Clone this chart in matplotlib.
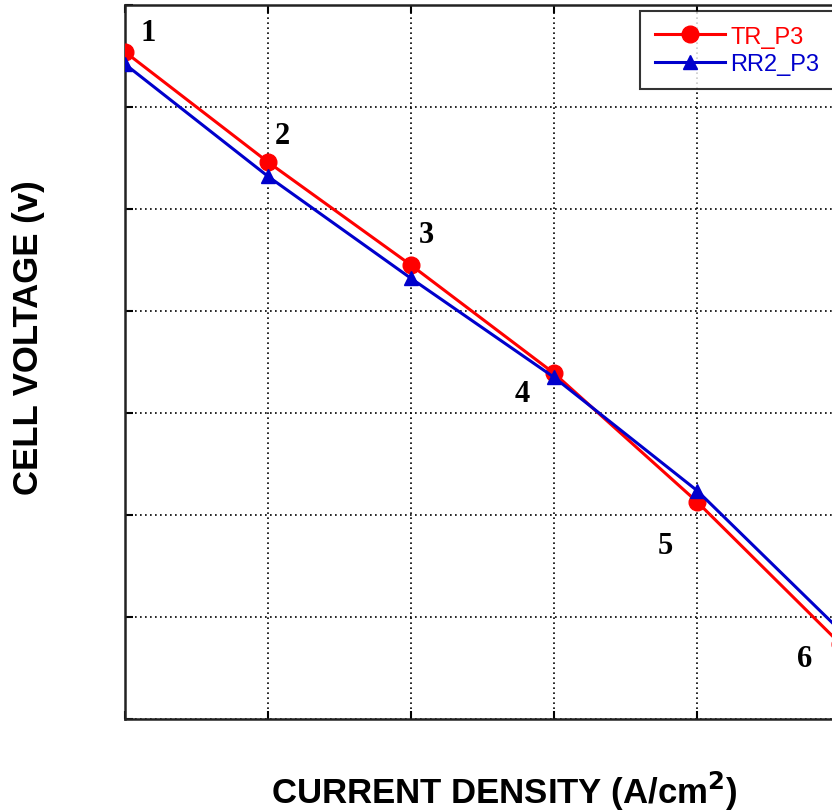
import matplotlib
matplotlib.use("Agg")
import matplotlib.pyplot as plt

# point index along the current density axis (no tick values shown)
current_density = [0, 1, 2, 3, 4, 5]
tr_p3 = [6.54, 5.46, 4.45, 3.39, 2.13, 0.74]
rr2_p3 = [6.42, 5.32, 4.32, 3.35, 2.24, 0.87]
point_labels = ["1", "2", "3", "4", "5", "6"]
label_offsets = [(0.16, 0.19), (0.1, 0.26), (0.11, 0.3), (-0.22, -0.2), (-0.22, -0.43), (-0.25, -0.15)]

fig = plt.figure(figsize=(8.32, 8.12), dpi=100)
ax = fig.add_axes([125 / 832, 92 / 812, 715 / 832, 714 / 812])

ax.plot(current_density, tr_p3, color="#ff0000", lw=2.2, marker="o", ms=12,
        label="TR_P3", zorder=3)
ax.plot(current_density, rr2_p3, color="#0000cc", lw=2.2, marker="^", ms=10,
        label="RR2_P3", zorder=4)

for x, y, txt, (dx, dy) in zip(current_density, tr_p3, point_labels, label_offsets):
    ax.text(x + dx, y + dy, txt, fontsize=22, fontweight="bold",
            family="Liberation Serif", ha="center", va="center")

ax.set_xlim(0, 5)
ax.set_ylim(0, 7)
ax.set_xticks(current_density)
ax.set_yticks(range(8))
ax.tick_params(direction="in", length=6, width=1.5, labelleft=False,
               labelbottom=False, top=True, right=True)
ax.grid(True, color="black", linestyle=(0, (1, 2)), linewidth=1.2)
for s in ax.spines.values():
    s.set_linewidth(1.8)
    s.set_color("#222222")

fig.text(504 / 832, 1 - 791 / 812, "CURRENT DENSITY (A/cm$^\\mathbf{2}$)",
         fontsize=25, fontweight="bold", family="Liberation Sans",
         ha="center", va="center")
fig.text(29 / 832, 1 - 338 / 812, "CELL VOLTAGE (v)", rotation=90,
         fontsize=25, fontweight="bold", family="Liberation Sans",
         ha="center", va="center")

leg = ax.legend(loc="upper left",
                bbox_to_anchor=(515 / 715, 1 - 6 / 714 - 100 / 714, 215 / 715, 100 / 714),
                mode="expand",
                prop={"family": "Liberation Sans", "size": 17},
                frameon=True, fancybox=False, edgecolor="black",
                borderpad=0.62, handlelength=3.0, handletextpad=0.2,
                labelspacing=0.22, borderaxespad=0)
leg.get_frame().set_linewidth(1.5)
for t, c in zip(leg.get_texts(), ["#ff0000", "#0000cc"]):
    t.set_color(c)

fig.savefig("out.png", dpi=100)
